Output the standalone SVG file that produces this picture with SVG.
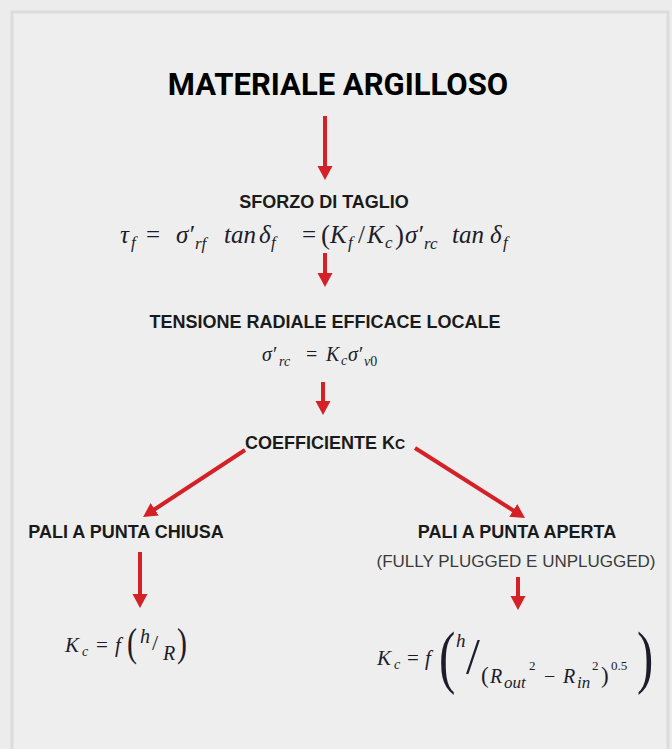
<svg xmlns="http://www.w3.org/2000/svg" width="672" height="749" viewBox="0 0 672 749">
<style>
.lbl{font-family:"Liberation Sans",Arial,sans-serif;font-weight:700;font-size:18px;fill:#1a1a1a;text-anchor:middle}
.sub{font-family:"Liberation Sans",Arial,sans-serif;font-size:17px;fill:#3a3a3a;text-anchor:middle}
.title{font-family:Roboto,"Liberation Sans",sans-serif;font-weight:700;font-size:31px;fill:#000;text-anchor:middle}
.m{font-family:"Liberation Serif","DejaVu Serif",serif;font-style:italic;fill:#1d1c2b}
.u{font-style:normal}
.arr{stroke:#d42027;stroke-width:4;fill:none;marker-end:url(#ah)}
</style>
<defs>
<marker id="ah" markerUnits="userSpaceOnUse" markerWidth="16" markerHeight="16" refX="4" refY="7.5" orient="auto">
<path d="M0,0 L14,7.5 L0,15 z" fill="#d42027"/>
</marker>
</defs>
<rect x="0" y="0" width="672" height="749" fill="#ececec"/>
<rect x="12" y="12" width="656" height="760" fill="#eeeeee" stroke="#dcdcdc" stroke-width="3"/>

<g id="connectors">
<line class="arr" x1="325" y1="116" x2="325" y2="170"/>
<line class="arr" x1="325" y1="253" x2="325" y2="277"/>
<line class="arr" x1="323" y1="382" x2="323" y2="405"/>
<line class="arr" x1="245" y1="450" x2="151.4" y2="511.5"/>
<line class="arr" x1="415" y1="448" x2="516.6" y2="512.6"/>
<line class="arr" x1="140" y1="552" x2="140" y2="598"/>
<line class="arr" x1="518" y1="577" x2="518" y2="600"/>
</g>

<g id="title">
<text class="title" x="338" y="95">MATERIALE ARGILLOSO</text>
</g>

<g id="sforzo">
<text class="lbl" x="324" y="208">SFORZO DI TAGLIO</text>
<text class="m" font-size="25">
<tspan x="120" y="243">τ</tspan><tspan x="131" y="248" font-size="17">f</tspan>
<tspan class="u" x="146" y="243">=</tspan>
<tspan x="176" y="243">σ′</tspan><tspan x="195" y="249" font-size="17">rf</tspan>
<tspan x="224" y="243">tan</tspan>
<tspan x="259" y="243">δ</tspan><tspan x="271" y="248" font-size="17">f</tspan>
<tspan class="u" x="302" y="243">=</tspan>
<tspan class="u" x="321" y="244" font-size="27">(</tspan>
<tspan x="330" y="243">K</tspan><tspan x="348" y="248" font-size="17">f</tspan>
<tspan class="u" x="358" y="243">/</tspan>
<tspan x="367" y="243">K</tspan><tspan x="385" y="248" font-size="17">c</tspan>
<tspan class="u" x="395" y="244" font-size="27">)</tspan>
<tspan x="405" y="243">σ′</tspan><tspan x="424" y="249" font-size="17">rc</tspan>
<tspan x="452" y="243">tan</tspan>
<tspan x="490" y="243">δ</tspan><tspan x="503" y="248" font-size="17">f</tspan>
</text>
</g>

<g id="tensione">
<text class="lbl" x="325" y="328">TENSIONE RADIALE EFFICACE LOCALE</text>
<text class="m" font-size="20">
<tspan x="262" y="361">σ′</tspan><tspan x="279" y="366" font-size="14">rc</tspan>
<tspan class="u" x="306" y="361">=</tspan>
<tspan x="326" y="361">K</tspan><tspan x="341" y="365" font-size="14">c</tspan>
<tspan x="348" y="361">σ′</tspan><tspan x="364" y="366" font-size="14">v</tspan><tspan class="u" font-size="14" y="366">0</tspan>
</text>
</g>

<g id="coefficiente">
<text class="lbl" x="325" y="449">COEFFICIENTE K<tspan font-size="14">C</tspan></text>
</g>

<g id="chiusa">
<text class="lbl" x="126" y="538">PALI A PUNTA CHIUSA</text>
<text class="m" font-size="21">
<tspan x="65" y="652">K</tspan><tspan x="82" y="656" font-size="14">c</tspan>
<tspan class="u" x="96" y="652">=</tspan>
<tspan x="115" y="652">f</tspan>
<tspan x="140" y="643" font-size="20">h</tspan>
<tspan class="u" x="152" y="650" font-size="22">/</tspan>
<tspan x="163" y="660" font-size="20">R</tspan>
</text>
<text class="m u" font-size="40" transform="translate(127,656) scale(0.75,1)">(</text>
<text class="m u" font-size="40" transform="translate(177,656) scale(0.75,1)">)</text>
</g>

<g id="aperta">
<text class="lbl" x="517" y="538">PALI A PUNTA APERTA</text>
<text class="sub" x="516" y="567">(FULLY PLUGGED E UNPLUGGED)</text>
<text class="m" font-size="21">
<tspan x="377" y="665">K</tspan><tspan x="394" y="669" font-size="14">c</tspan>
<tspan class="u" x="407" y="665">=</tspan>
<tspan x="425" y="665">f</tspan>
<tspan x="456" y="647" font-size="19">h</tspan>
<tspan class="u" x="481" y="683" font-size="23">(</tspan>
<tspan x="490" y="683" font-size="20">R</tspan><tspan x="504" y="688" font-size="17">out</tspan>
<tspan class="u" x="529" y="670" font-size="13">2</tspan>
<tspan class="u" x="544" y="683" font-size="20">−</tspan>
<tspan x="563" y="683" font-size="20">R</tspan><tspan x="577" y="688" font-size="17">in</tspan>
<tspan class="u" x="592" y="670" font-size="13">2</tspan>
<tspan class="u" x="601" y="683" font-size="23">)</tspan>
<tspan class="u" x="611" y="670" font-size="13">0.5</tspan>
</text>
<text class="m u" font-size="50" x="466" y="673">/</text>
<text class="m u" font-size="70" transform="translate(439,680) scale(0.7,1)">(</text>
<text class="m u" font-size="70" transform="translate(637,680) scale(0.7,1)">)</text>
</g>
</svg>
